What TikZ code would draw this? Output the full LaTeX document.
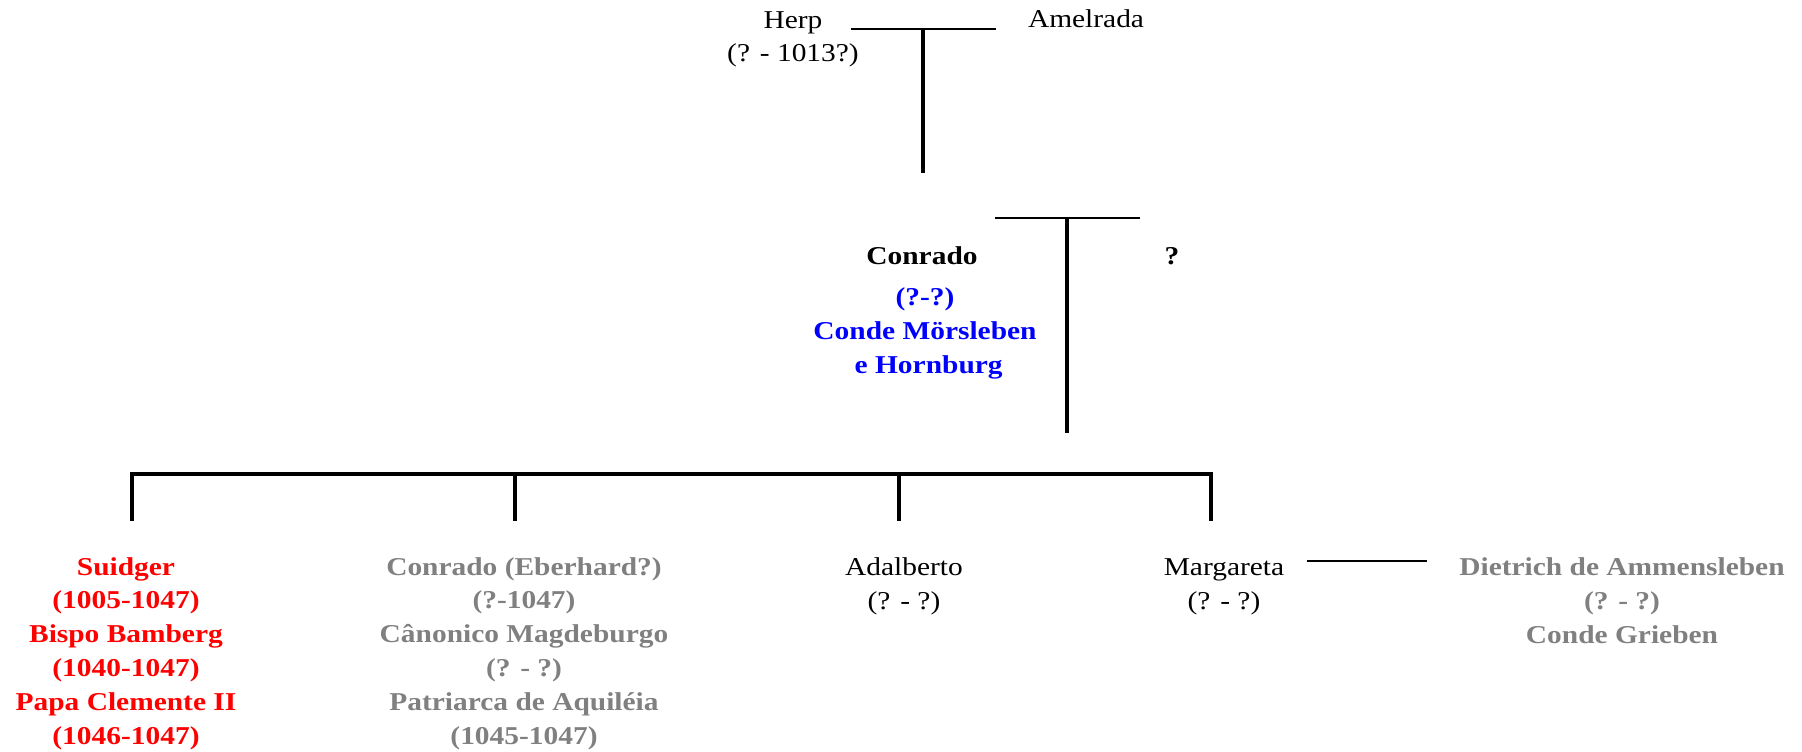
\documentclass[tikz,border=0pt]{standalone}
\usepackage{fontspec}
\setmainfont[FakeStretch=1.145]{Liberation Serif}
\definecolor{cinza}{RGB}{128,128,128}
\definecolor{azul}{RGB}{0,0,255}
\definecolor{vermelho}{RGB}{255,0,0}

\begin{document}
\begin{tikzpicture}[x=1pt, y=-1pt,
    nome/.style={anchor=base, align=center, inner sep=0pt,
      font=\fontsize{25.7}{33.8}\selectfont},
    forte/.style={nome, font=\fontsize{25.7}{33.8}\selectfont\bfseries},
    casamento/.style={line width=2pt},
    descendencia/.style={line width=4pt},
    ramo/.style={line width=3.5pt, line join=miter}]
    \useasboundingbox (0,0) rectangle (1802,752);

    % Primeira geração (base = última linha)
    \node[nome] (herp) at (793,62) {Herp\\(? - 1013?)};
    \node[nome] (amelrada) at (1086,28) {Amelrada};
    \coordinate (herpA) at (851,29);
    \coordinate (herpB) at (996,29);
    \coordinate (herpC) at (923,29);
    \coordinate (herpD) at (923,173);
    \draw[casamento] (herpA) -- (herpB);
    \draw[descendencia] (herpC) -- (herpD);

    % Segunda geração
    \node[forte] (conrado) at (922,264) {Conrado};
    \node[forte] (esposa) at (1172,264) {?};
    \node[forte, text=azul] (titulo) at (925,373) {(?-?)\\Conde Mörsleben\\\ e Hornburg};
    \coordinate (conA) at (995,218);
    \coordinate (conB) at (1140,218);
    \coordinate (conC) at (1067,218);
    \coordinate (conD) at (1067,433);
    \draw[casamento] (conA) -- (conB);
    \draw[descendencia] (conC) -- (conD);

    % Filhos
    \coordinate (f1) at (132,474);
    \coordinate (f2) at (515,474);
    \coordinate (f3) at (899,474);
    \coordinate (f4) at (1211,474);
    \draw[ramo] ([yshift=-47pt]f1) -- (f1) -- (f4) -- ([yshift=-47pt]f4);
    \draw[ramo] (f2) -- ([yshift=-47pt]f2);
    \draw[ramo] (f3) -- ([yshift=-47pt]f3);

    \node[forte, text=vermelho] (suidger) at (126,744)
      {Suidger\\(1005-1047)\\Bispo Bamberg\\(1040-1047)\\Papa Clemente II\\(1046-1047)};
    \node[forte, text=cinza] (conradoeb) at (524,744)
      {Conrado (Eberhard?)\\(?-1047)\\Cânonico Magdeburgo\\(? - ?)\\Patriarca de Aquiléia\\(1045-1047)};
    \node[nome] (adalberto) at (904,609) {Adalberto\\(? - ?)};
    \node[nome] (margareta) at (1224,609) {Margareta\\(? - ?)};
    \node[forte, text=cinza] (dietrich) at (1622,643)
      {Dietrich de Ammensleben\\(? - ?)\\Conde Grieben};
    \coordinate (marA) at (1307,561);
    \coordinate (marB) at (1427,561);
    \draw[casamento] (marA) -- (marB);
\end{tikzpicture}
\end{document}
